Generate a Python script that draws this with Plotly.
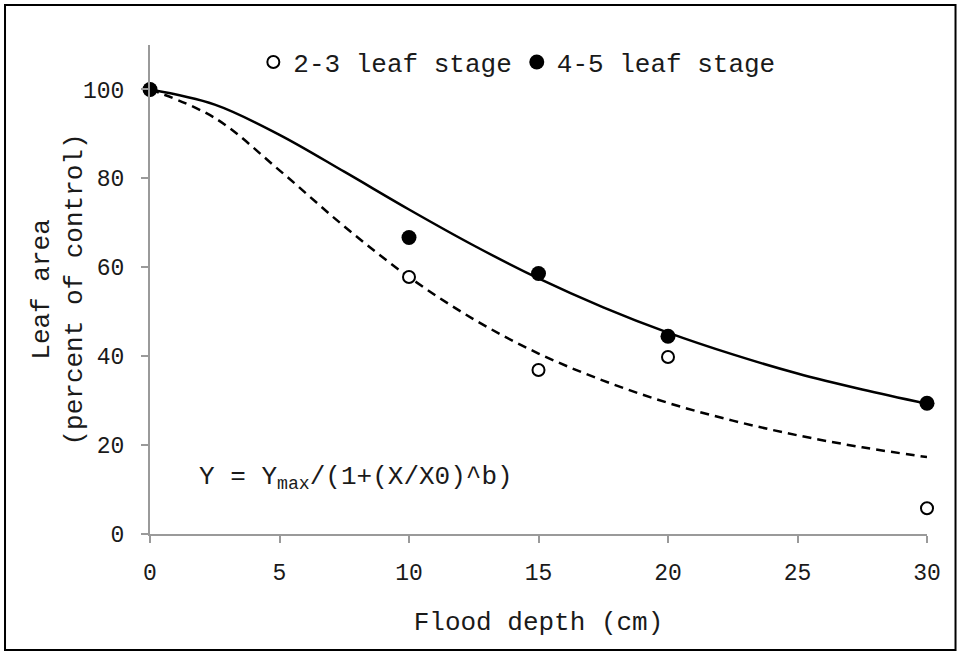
import plotly.graph_objects as go

# Observed data
depth = [0, 10, 15, 20, 30]
stage_23 = [100, 57.8, 36.9, 39.8, 5.8]
stage_45 = [100, 66.7, 58.6, 44.5, 29.4]

# Fitted curves
curve_x = [0, 2.5, 5, 7.5, 10, 12.5, 15, 17.5, 20, 22.5, 25, 27.5, 30]
curve_23 = [100, 93.6, 81.8, 69.2, 57.8, 48.3, 40.6, 34.5, 29.5, 25.5, 22.2, 19.5, 17.3]
curve_45 = [100, 96.6, 89.8, 81.5, 73.0, 64.9, 57.5, 51.0, 45.3, 40.4, 36.1, 32.5, 29.3]

x_ticks = [0, 5, 10, 15, 20, 25, 30]
y_ticks = [0, 20, 40, 60, 80, 100]

FONT = "Liberation Mono, Courier New, monospace"
TXT = "#1a1a1a"
AX = "#9a9a9a"

fig = go.Figure()
fig.add_trace(go.Scatter(x=curve_x, y=curve_23, mode="lines", line_shape="spline",
                         line=dict(color="black", width=2.5, dash="9px,6px"),
                         showlegend=False, hoverinfo="skip", cliponaxis=False))
fig.add_trace(go.Scatter(x=curve_x, y=curve_45, mode="lines", line_shape="spline",
                         line=dict(color="black", width=2.5),
                         showlegend=False, hoverinfo="skip", cliponaxis=False))
fig.add_trace(go.Scatter(x=depth, y=stage_23, mode="markers", name="2-3 leaf stage",
                         marker=dict(symbol="circle", size=12, color="white",
                                     line=dict(color="black", width=2)),
                         cliponaxis=False))
fig.add_trace(go.Scatter(x=depth, y=stage_45, mode="markers", name="4-5 leaf stage",
                         marker=dict(symbol="circle", size=15, color="black",
                                     line=dict(color="black", width=0)),
                         cliponaxis=False))

fig.update_layout(
    width=960, height=655,
    margin=dict(l=150, r=33, t=45, b=121, autoexpand=False),
    paper_bgcolor="white", plot_bgcolor="white",
    font=dict(family=FONT, color=TXT, size=23),
    showlegend=True,
    legend=dict(orientation="h", x=0.133, y=0.965, xanchor="left", yanchor="middle",
                font=dict(size=26, family=FONT, color=TXT), bgcolor="rgba(0,0,0,0)",
                itemwidth=30, tracegroupgap=0),
    xaxis=dict(range=[0, 30], tickvals=x_ticks, showgrid=False, zeroline=False,
               showline=True, linecolor=AX, linewidth=2, ticks="outside",
               ticklen=7, tickwidth=2, tickcolor=AX, ticklabelstandoff=9,
               tickfont=dict(size=23, family=FONT, color=TXT),
               title=dict(text="Flood depth (cm)", font=dict(size=26, family=FONT, color=TXT),
                          standoff=26)),
    yaxis=dict(range=[0, 110], tickvals=y_ticks, showgrid=False, zeroline=False,
               showline=True, linecolor=AX, linewidth=2, ticks="outside",
               ticklen=7, tickwidth=2, tickcolor=AX, ticklabelstandoff=12,
               tickfont=dict(size=23, family=FONT, color=TXT)),
    annotations=[
        dict(x=1.8, y=12.6, xref="x", yref="y", xanchor="left", yanchor="middle",
             text="Y = Y<sub>max</sub>/(1+(X/X0)^b)", showarrow=False,
             font=dict(size=26, family=FONT, color=TXT)),
        dict(x=-0.1184, y=0.5, xref="paper", yref="paper", xanchor="center", yanchor="middle",
             text="Leaf area<br>(percent of control)", textangle=-90, showarrow=False,
             font=dict(size=26, family=FONT, color=TXT)),
    ],
    shapes=[dict(type="rect", xref="paper", yref="paper",
                 x0=-0.1866, x1=1.0367, y0=-0.2372, y1=1.0818,
                 line=dict(color="black", width=2), fillcolor="rgba(0,0,0,0)", layer="below")],
)

fig.write_html("out.html")
